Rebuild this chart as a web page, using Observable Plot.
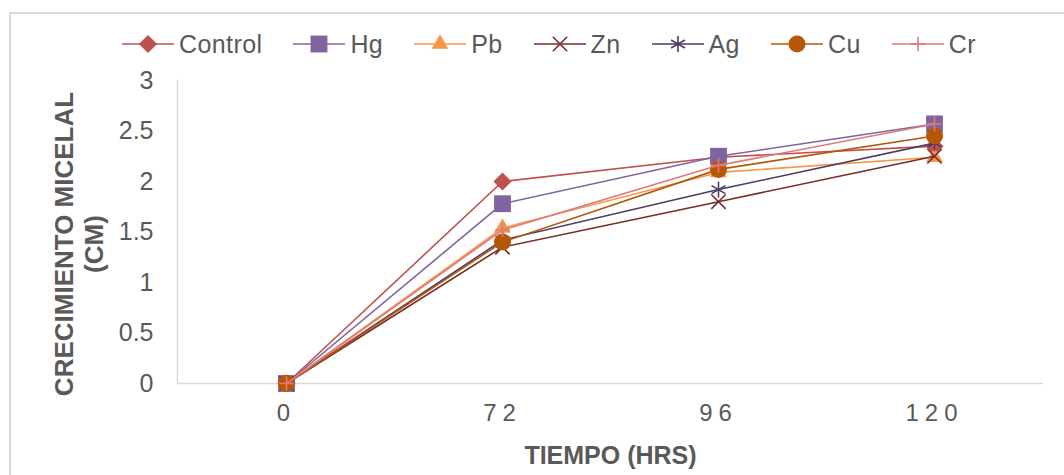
<!DOCTYPE html>
<html>
<head>
<meta charset="utf-8">
<script src="https://cdn.jsdelivr.net/npm/d3@7"></script>
<script src="https://cdn.jsdelivr.net/npm/@observablehq/plot@0.6"></script>
<style>
  html, body { margin: 0; padding: 0; background: #fff; }
  #wrap { position: relative; width: 1064px; height: 475px; overflow: hidden; font-family: "Liberation Sans", Arial, sans-serif; }
  #border { position: absolute; left: 9px; top: 12px; width: 1200px; height: 600px; border: 2px solid #d9d9d9; box-sizing: border-box; }
  #legend { position: absolute; left: 122px; top: 32px; height: 24px; display: flex; align-items: center; gap: 31px; font-size: 25px; color: #595959; letter-spacing: 0.4px; }
  .item { display: flex; align-items: center; gap: 5px; }
  .item svg { display: block; }
  #chart { position: absolute; left: 0; top: 62px; }
  #chart g[aria-label="x-axis tick label"] text { letter-spacing: 6px; }
  #chart g[aria-label="x-axis label"] text { font-weight: bold; font-size: 25px; letter-spacing: 0; }
</style>
</head>
<body>
<div id="wrap">
  <div id="border"></div>
  <div id="legend"></div>
  <div id="chart"></div>
</div>
<script>
// ---- data ----
const tiempo = ["0", "72", "96", "120"];
const seriesNames = ["Control", "Hg", "Pb", "Zn", "Ag", "Cu", "Cr"];
const control = [0, 2.00, 2.24, 2.35];
const hg      = [0, 1.78, 2.25, 2.57];
const pb      = [0, 1.54, 2.09, 2.24];
const zn      = [0, 1.35, 1.80, 2.25];
const ag      = [0, 1.42, 1.92, 2.38];
const cu      = [0, 1.40, 2.12, 2.45];
const cr      = [0, 1.52, 2.16, 2.57];
const yTicks  = [0, 0.5, 1, 1.5, 2, 2.5, 3];
const xTitle = "TIEMPO (HRS)";
const yTitle = "CRECIMIENTO MICELAL\n(CM)";

// ---- styles per series ----
const values = [control, hg, pb, zn, ag, cu, cr];
const styles = [
  {color: "#C0504D", symbol: "diamond2", r: 8.2, filled: true},
  {color: "#8064A2", symbol: "square",   r: 9.5, filled: true},
  {color: "#F79646", symbol: "triangle", r: 6.2, filled: true},
  {color: "#772C2A", symbol: "times",    r: 6.6, filled: false},
  {color: "#4D3B62", symbol: "asterisk", r: 7.6, filled: false},
  {color: "#B65708", symbol: "circle",   r: 8.5, filled: true},
  {color: "#E07A7A", symbol: "plus",     r: 4.8, filled: false}
];

const series = seriesNames.map((name, i) => ({
  name, style: styles[i],
  rows: tiempo.map((t, j) => ({series: name, tiempo: t, valor: values[i][j]}))
}));

const symbolMap = {
  diamond2: d3.symbolDiamond2, square: d3.symbolSquare, triangle: d3.symbolTriangle,
  times: d3.symbolTimes, asterisk: d3.symbolAsterisk, circle: d3.symbolCircle, plus: d3.symbolPlus
};

// ---- legend ----
const legend = document.getElementById("legend");
series.forEach(s => {
  const item = document.createElement("div");
  item.className = "item";
  const st = s.style;
  const path = d3.symbol(symbolMap[st.symbol], Math.PI * st.r * st.r)();
  item.innerHTML =
    `<svg width="52" height="24"><line x1="0" x2="52" y1="12" y2="12" stroke="${st.color}" stroke-width="1.6"/>` +
    `<path transform="translate(26,12)" d="${path}" fill="${st.filled ? st.color : "none"}" stroke="${st.filled ? "none" : st.color}" stroke-width="1.6"/></svg>` +
    `<span>${s.name}</span>`;
  legend.appendChild(item);
});

// ---- chart ----
const marks = [
  Plot.ruleY([0], {stroke: "#d9d9d9", strokeWidth: 1.5}),
  Plot.frame({anchor: "left", stroke: "#d9d9d9", strokeWidth: 1.5}),
  Plot.axisY(yTicks, {tickSize: 0, tickPadding: 24, fontSize: 25, label: null, tickFormat: d => String(d), color: "#595959"}),
  Plot.axisX({tickSize: 0, tickPadding: 20, fontSize: 24, label: xTitle, labelAnchor: "center", labelOffset: 80, color: "#595959"}),
  Plot.text([yTitle], {frameAnchor: "left", textAnchor: "middle", dx: -99, dy: 12, rotate: -90, fontSize: 26, fontWeight: "bold", lineHeight: 1.15, fill: "#595959"})
];
series.forEach(s => {
  const st = s.style;
  marks.push(Plot.line(s.rows, {x: "tiempo", y: "valor", stroke: st.color, strokeWidth: 1.6}));
  marks.push(Plot.dot(s.rows, {
    x: "tiempo", y: "valor", symbol: () => st.symbol, r: st.r,
    fill: st.filled ? st.color : "none",
    stroke: st.filled ? "none" : st.color,
    strokeWidth: st.filled ? 0 : 1.6
  }));
});

const chart = Plot.plot({
  width: 1064, height: 413,
  marginTop: 18, marginBottom: 92, marginLeft: 177, marginRight: 21,
  x: {type: "point", domain: tiempo, padding: 0.5},
  y: {domain: [0, 3]},
  symbol: {type: "identity"},
  style: {fontFamily: "'Liberation Sans', Arial, sans-serif", background: "transparent", color: "#595959"},
  marks
});
document.getElementById("chart").appendChild(chart);
</script>
</body>
</html>
